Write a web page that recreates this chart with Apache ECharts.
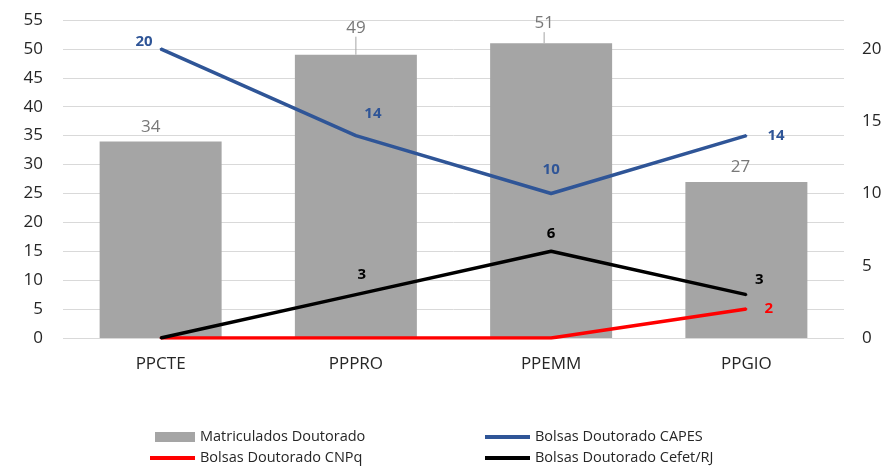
<!DOCTYPE html>
<html><head><meta charset="utf-8">
<script src="https://cdn.jsdelivr.net/npm/echarts@6/dist/echarts.min.js"></script>
<style>html,body{margin:0;padding:0;background:#fff}#c{width:888px;height:469px}</style>
</head><body><div id="c"></div>
<script>
const categories = ['PPCTE', 'PPPRO', 'PPEMM', 'PPGIO'];
const matriculados = [34, 49, 51, 27];
const capes = [20, 14, 10, 14];
const cnpq = [0, 0, 0, 2];
const cefet = [0, 3, 6, 3];
const leftTicks = {min: 0, max: 55, interval: 5};
const rightTicks = {min: 0, max: 22, interval: 5};

const FONT = 'Open Sans';
const chart = echarts.init(document.getElementById('c'), null, {renderer: 'canvas'});

const capesPos = ['left', 'top', 'top', 'right'];
const capesOff = [[-6, -7], [17, -8], [0, -10], [0, 0]];
const cefetOff = [[0, 0], [6, -6], [0, -4], [13, -1]];
const barLabelShift = [[-10, 0], [0, -12], [-7, -5], [-6, 0]];
const barLeader = [false, true, true, false];

const LINE_ICON = 'path://M0,0 L45,0 L45,4 L0,4 Z';
const legendText = {fontSize: 14.5, color: '#262626', fontFamily: FONT, lineHeight: 20};
function mkLegend(name, left, top, icon, w, h) {
  return {left: left, top: top, padding: 0, itemWidth: w, itemHeight: h,
    textStyle: legendText, data: [{name: name, icon: icon}]};
}

chart.setOption({
  animation: false,
  textStyle: {fontFamily: FONT},
  grid: {left: 63, right: 44, top: 20, bottom: 131},
  legend: [
    mkLegend('Matriculados Doutorado', 155, 427, 'rect', 40, 10),
    mkLegend('Bolsas Doutorado CNPq', 150, 448, LINE_ICON, 45, 4),
    mkLegend('Bolsas Doutorado CAPES', 485, 427, LINE_ICON, 45, 4),
    mkLegend('Bolsas Doutorado Cefet/RJ', 485, 448, LINE_ICON, 45, 4)
  ],
  xAxis: {
    type: 'category', data: categories,
    axisLine: {show: false}, axisTick: {show: false},
    axisLabel: {fontSize: 17, color: '#262626', margin: 18}
  },
  yAxis: [
    {type: 'value', min: leftTicks.min, max: leftTicks.max, interval: leftTicks.interval,
     axisLine: {show: false}, axisTick: {show: false},
     axisLabel: {fontSize: 17, color: '#262626', margin: 20},
     splitLine: {lineStyle: {color: '#d9d9d9', width: 1}}},
    {type: 'value', min: rightTicks.min, max: rightTicks.max, interval: rightTicks.interval,
     axisLine: {show: false}, axisTick: {show: false},
     axisLabel: {fontSize: 17, color: '#262626', margin: 18, showMaxLabel: false},
     splitLine: {show: false}}
  ],
  series: [
    {name: 'Matriculados Doutorado', type: 'bar', barWidth: 122,
     data: matriculados.map((v, i) => ({value: v, labelLine: {show: barLeader[i]}})),
     itemStyle: {color: '#a5a5a5'},
     label: {show: true, position: 'top', fontSize: 17, color: '#787878', distance: 6},
     labelLine: {show: true, lineStyle: {color: '#a5a5a5', width: 1}},
     labelLayout: function (p) {
       const s = barLabelShift[p.dataIndex];
       return {dx: s[0], dy: s[1]};
     }},
    {name: 'Bolsas Doutorado CAPES', type: 'line', yAxisIndex: 1, z: 5,
     data: capes.map((v, i) => ({value: v, label: {position: capesPos[i], offset: capesOff[i], distance: i === 3 ? 20 : (i === 0 ? 1 : 5)}})),
     symbol: 'circle', symbolSize: 2, lineStyle: {color: '#2f5597', width: 3.5}, itemStyle: {color: '#2f5597'},
     label: {show: true, fontSize: 15, fontWeight: 'bold', color: '#2f5597'}},
    {name: 'Bolsas Doutorado CNPq', type: 'line', yAxisIndex: 1, z: 4,
     data: cnpq.map((v, i) => ({value: v, label: {show: i === 3}})),
     symbol: 'circle', symbolSize: 2, lineStyle: {color: '#ff0000', width: 3.5}, itemStyle: {color: '#ff0000'},
     label: {show: true, position: 'right', fontSize: 15, fontWeight: 'bold', color: '#ff0000', distance: 17}},
    {name: 'Bolsas Doutorado Cefet/RJ', type: 'line', yAxisIndex: 1, z: 6,
     data: cefet.map((v, i) => ({value: v, label: {show: i > 0, offset: cefetOff[i]}})),
     symbol: 'circle', symbolSize: 2, lineStyle: {color: '#000000', width: 3.5}, itemStyle: {color: '#000000'},
     label: {show: true, position: 'top', fontSize: 15, fontWeight: 'bold', color: '#000000', distance: 5}}
  ]
});
</script>
</body></html>
